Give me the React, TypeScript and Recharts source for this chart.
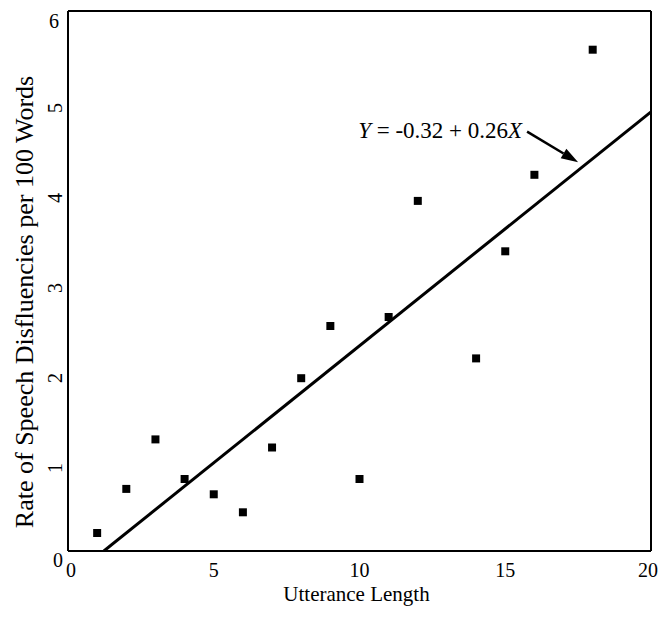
import { ScatterChart, Scatter, XAxis, YAxis, ZAxis, ReferenceLine } from 'recharts';

const FONT = '"Liberation Serif", "Times New Roman", serif';

// observed rates (x = utterance length, y = disfluencies per 100 words)
const utteranceLength = [1, 2, 3, 4, 5, 6, 7, 8, 9, 10, 11, 12, 14, 15, 16, 18];
const disfluencyRate = [0.2, 0.69, 1.24, 0.8, 0.63, 0.43, 1.15, 1.92, 2.5, 0.8, 2.6, 3.89, 2.14, 3.33, 4.18, 5.57];

// fitted line Y = -0.32 + 0.26X, from where it crosses 0 up to x = 20
const fitX = [1.23, 20];
const fitY = [0, 4.88];

// annotation arrow, tail -> head
const arrowX = [15.75, 17.5];
const arrowY = [4.66, 4.32];

const xTicks = [0, 5, 10, 15, 20];
const yTicks = [0, 1, 2, 3, 4, 5, 6];
const innerXTicks = [5, 10, 15];
const innerYTicks = [1, 2, 3, 4, 5];

const points = utteranceLength.map((x, i) => ({ x, y: disfluencyRate[i] }));
const fitLine = fitX.map((x, i) => ({ x, y: fitY[i] }));

function XTick(props: any) {
  const { x, y, payload } = props;
  const dx = payload.value === 0 ? 3 : payload.value === 20 ? -3 : 0;
  return (
    <text x={x + dx} y={y + 26} textAnchor="middle" fontSize={20} fontFamily={FONT} fill="#000">
      {payload.value}
    </text>
  );
}

function YTick(props: any) {
  const { x, y, payload } = props;
  const v = payload.value;
  if (v === 0) {
    return (
      <text x={x - 10} y={y + 16} textAnchor="middle" fontSize={20} fontFamily={FONT} fill="#000">
        0
      </text>
    );
  }
  if (v === 6) {
    return (
      <text x={x - 14} y={y + 17} textAnchor="middle" fontSize={20} fontFamily={FONT} fill="#000">
        6
      </text>
    );
  }
  const cx = x - 13;
  const cy = y + 7;
  return (
    <text
      x={cx}
      y={cy}
      transform={`rotate(-90, ${cx}, ${cy})`}
      textAnchor="middle"
      dominantBaseline="central"
      fontSize={20}
      fontFamily={FONT}
      fill="#000"
    >
      {v}
    </text>
  );
}

function ArrowNote(props: any) {
  const { x1, y1, x2, y2 } = props;
  const ang = Math.atan2(y2 - y1, x2 - x1);
  const len = 17;
  const half = 5.5;
  const bx = x2 - len * Math.cos(ang);
  const by = y2 - len * Math.sin(ang);
  const px = -Math.sin(ang) * half;
  const py = Math.cos(ang) * half;
  return (
    <g>
      <line x1={x1} y1={y1} x2={bx} y2={by} stroke="#000" strokeWidth={2.5} />
      <polygon points={`${x2},${y2} ${bx + px},${by + py} ${bx - px},${by - py}`} fill="#000" />
      <text x={x1 - 5} y={y1 + 6} textAnchor="end" fontSize={23} fontFamily={FONT} fill="#000">
        <tspan fontStyle="italic">Y</tspan> = -0.32 + 0.26<tspan fontStyle="italic">X</tspan>
      </text>
    </g>
  );
}

export default function App() {
  return (
    <div style={{ position: 'absolute', left: 0, top: 0, background: '#fff' }}>
      <ScatterChart width={660} height={618} margin={{ top: 11, right: 9, bottom: 0, left: 0 }}>
        <XAxis
          xAxisId="x"
          dataKey="x"
          type="number"
          domain={[0, 20]}
          ticks={xTicks}
          allowDataOverflow
          height={67}
          axisLine={{ stroke: '#000', strokeWidth: 2 }}
          tickLine={false}
          tickSize={0}
          tickMargin={0}
          tick={<XTick />}
          label={{
            content: ({ viewBox }: any) => (
              <text
                x={viewBox.x + viewBox.width / 2 - 3}
                y={viewBox.y + 50}
                textAnchor="middle"
                fontSize={21}
                fontFamily={FONT}
                fill="#000"
              >
                Utterance Length
              </text>
            ),
          }}
        />
        <XAxis
          xAxisId="xin"
          type="number"
          domain={[0, 20]}
          ticks={innerXTicks}
          allowDataOverflow
          mirror
          axisLine={false}
          tick={false}
          tickSize={5}
          tickLine={{ stroke: '#000', strokeWidth: 1.5 }}
        />
        <XAxis
          xAxisId="xtop"
          type="number"
          orientation="top"
          domain={[0, 20]}
          ticks={innerXTicks}
          allowDataOverflow
          mirror
          axisLine={{ stroke: '#000', strokeWidth: 2 }}
          tick={false}
          tickLine={false}
        />
        <YAxis
          yAxisId="y"
          dataKey="y"
          type="number"
          domain={[0, 6]}
          ticks={yTicks}
          allowDataOverflow
          width={68}
          axisLine={{ stroke: '#000', strokeWidth: 2 }}
          tickLine={false}
          tickSize={0}
          tickMargin={0}
          tick={<YTick />}
          label={{
            content: ({ viewBox }: any) => {
              const cx = 33;
              const cy = viewBox.y + viewBox.height / 2 + 21;
              return (
                <text
                  x={cx}
                  y={cy}
                  transform={`rotate(-90, ${cx}, ${cy})`}
                  textAnchor="middle"
                  fontSize={26}
                  fontFamily={FONT}
                  fill="#000"
                >
                  Rate of Speech Disfluencies per 100 Words
                </text>
              );
            },
          }}
        />
        <YAxis
          yAxisId="yin"
          type="number"
          domain={[0, 6]}
          ticks={innerYTicks}
          allowDataOverflow
          mirror
          axisLine={false}
          tick={false}
          tickSize={5}
          tickLine={{ stroke: '#000', strokeWidth: 1.5 }}
        />
        <YAxis
          yAxisId="yright"
          type="number"
          orientation="right"
          domain={[0, 6]}
          ticks={innerYTicks}
          allowDataOverflow
          mirror
          axisLine={{ stroke: '#000', strokeWidth: 2 }}
          tick={false}
          tickSize={5}
          tickLine={{ stroke: '#000', strokeWidth: 1.5 }}
        />
        <ZAxis range={[40, 40]} />
        <Scatter
          xAxisId="x"
          yAxisId="y"
          data={fitLine}
          line={{ stroke: '#000', strokeWidth: 3 }}
          shape={() => <g />}
          isAnimationActive={false}
        />
        <Scatter
          xAxisId="x"
          yAxisId="y"
          data={points}
          fill="#000"
          shape="square"
          isAnimationActive={false}
        />
        <ReferenceLine
          xAxisId="x"
          yAxisId="y"
          segment={[
            { x: arrowX[0], y: arrowY[0] },
            { x: arrowX[1], y: arrowY[1] },
          ]}
          shape={(p: any) => <ArrowNote {...p} />}
        />
      </ScatterChart>
    </div>
  );
}
